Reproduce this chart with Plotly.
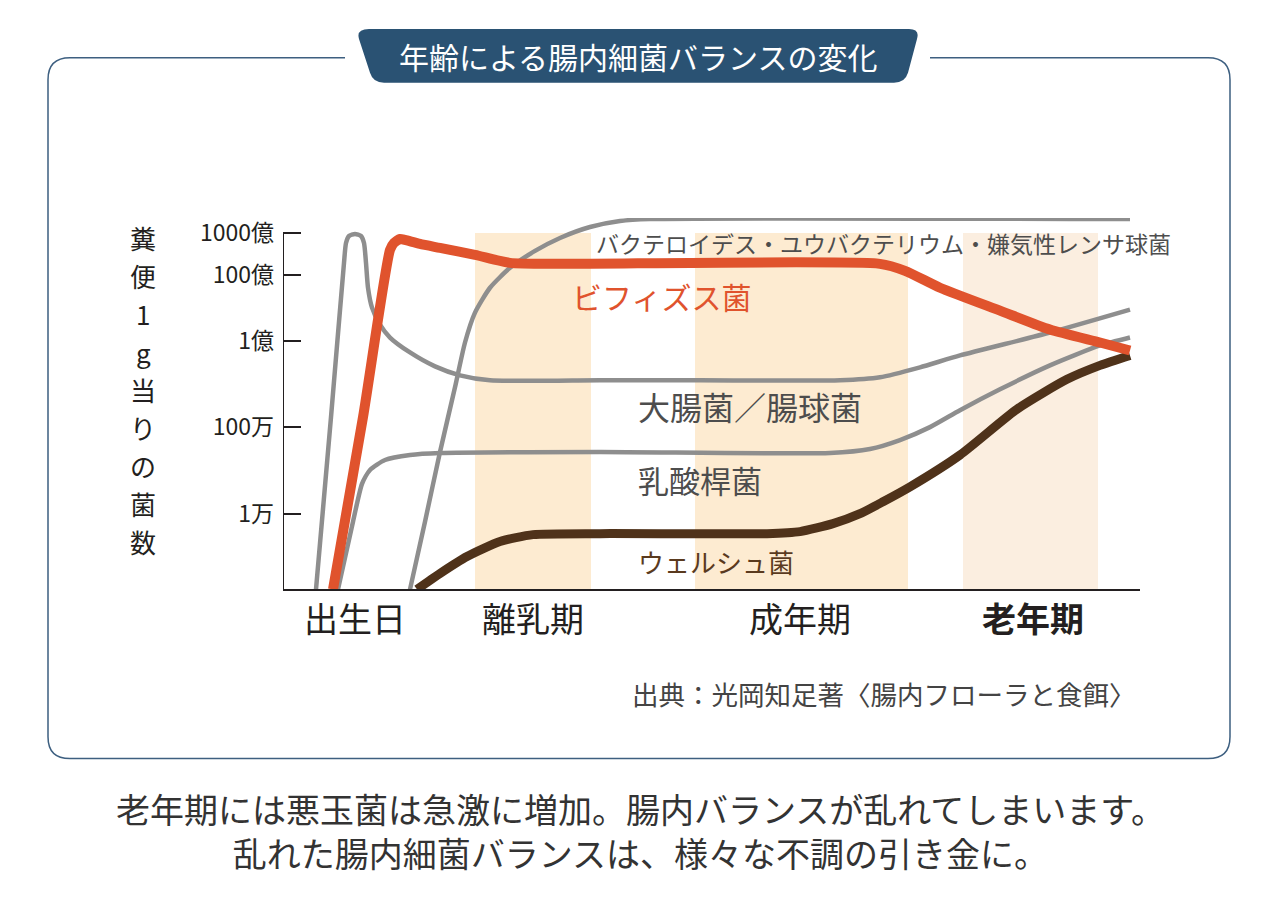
"""
Age-related change of gut bacteria balance (illustrative chart)
"""
import plotly.graph_objects as go

# the page body keeps an 8px margin, so the figure is drawn 16px smaller
OFF = 8
W, H = 1280 - 2 * OFF, 900 - 2 * OFF
FONT = "Noto Sans CJK JP"

# level axis: tick positions on the chart's own (non-uniform) scale
y_tick_vals = [76, 163, 250, 316, 358]
y_tick_text = ["1万", "100万", "1億", "100億", "1000億"]

# life stages
stage_pos = [72, 250, 517, 750]
stage_text = ["出生日", "離乳期", "成年期", "<b>老年期</b>"]
band_start = [192, 412, 680]
band_end = [308, 625, 815]
band_color = ["#FDEBD1", "#FDEBD1", "#FBEEE0"]

# curves (x: age position, y: level)
coli_x = [33, 48, 61, 63, 66, 72, 78, 81, 83, 85, 89, 97, 107, 127, 152, 177, 207,
          317, 417, 557, 597, 637, 677, 767, 847]
coli_y = [0, 173, 328, 348, 355, 357, 355, 348, 328, 303, 283, 266, 253, 238, 224, 215, 210,
          210, 210, 210, 213, 223, 235, 258, 281]

bact_x = [127, 142, 157, 172, 182, 192, 207, 227, 252, 277, 307, 337, 367, 847]
bact_y = [0, 68, 138, 203, 248, 278, 303, 323, 340, 353, 364, 370, 372, 372]

lacto_x = [55, 70, 79, 87, 102, 127, 157, 317, 547, 587, 617, 647, 677, 717, 767, 817, 847]
lacto_y = [0, 68, 106, 120, 130, 135, 137, 138, 137, 141, 150, 163, 180, 201, 225, 245, 253]

welch_x = [134, 157, 184, 217, 250, 317, 484, 517, 550, 577, 600, 627, 677, 734, 784, 817, 847]
welch_y = [0, 16, 33, 48, 55, 56, 56, 58, 66, 76, 88, 103, 135, 181, 211, 225, 235]

bifido_x = [50, 80, 107, 111, 117, 122, 137, 157, 192, 227, 277, 597, 622, 657, 717, 767, 817, 847]
bifido_y = [0, 173, 341, 348, 352, 351, 347, 343, 336, 328, 327, 327, 320, 303, 280, 261, 248, 240]


def px(x):
    return (x - OFF) / W


def py(y):
    return 1 - (y - OFF) / H


fig = go.Figure()

grey = "#8E8E8E"
for xs, ys in [(coli_x, coli_y), (bact_x, bact_y), (lacto_x, lacto_y)]:
    fig.add_trace(go.Scatter(x=xs, y=ys, mode="lines",
                             line=dict(color=grey, width=4.5, shape="spline", smoothing=0.6),
                             hoverinfo="skip"))

fig.add_trace(go.Scatter(x=welch_x, y=welch_y, mode="lines",
                         line=dict(color="#4F321A", width=9, shape="spline", smoothing=0.6),
                         hoverinfo="skip"))
fig.add_trace(go.Scatter(x=bifido_x, y=bifido_y, mode="lines",
                         line=dict(color="#E0532D", width=10, shape="spline", smoothing=0.6),
                         hoverinfo="skip"))

shapes = []
# stage bands
for x0, x1, c in zip(band_start, band_end, band_color):
    shapes.append(dict(type="rect", xref="x", yref="y", x0=x0, x1=x1, y0=0, y1=max(y_tick_vals),
                       fillcolor=c, line=dict(width=0), layer="below"))
# y axis line, up to the top tick only
shapes.append(dict(type="line", xref="x", yref="y", x0=0, x1=0, y0=0, y1=max(y_tick_vals),
                   line=dict(color="#231F20", width=2)))

# outer rounded frame with a gap for the title tab
r = 22
L, R, T, B = 48, 1230, 54, 758
frame = (f"M {px(345)},{py(T)} L {px(L + r)},{py(T)} Q {px(L)},{py(T)} {px(L)},{py(T + r)} "
         f"L {px(L)},{py(B - r)} Q {px(L)},{py(B)} {px(L + r)},{py(B)} "
         f"L {px(R - r)},{py(B)} Q {px(R)},{py(B)} {px(R)},{py(B - r)} "
         f"L {px(R)},{py(T + r)} Q {px(R)},{py(T)} {px(R - r)},{py(T)} L {px(930)},{py(T)}")
shapes.append(dict(type="path", xref="paper", yref="paper", path=frame,
                   line=dict(color="#3D5F80", width=1.5)))

# title tab
tab = (f"M {px(369)},{py(25)} L {px(909)},{py(25)} Q {px(920)},{py(25)} {px(917)},{py(35)} "
       f"L {px(908)},{py(69)} Q {px(905)},{py(79)} {px(894)},{py(79)} "
       f"L {px(384)},{py(79)} Q {px(373)},{py(79)} {px(370)},{py(69)} "
       f"L {px(359)},{py(35)} Q {px(356)},{py(25)} {px(369)},{py(25)} Z")
shapes.append(dict(type="path", xref="paper", yref="paper", path=tab,
                   fillcolor="#2A5273", line=dict(width=0)))

annotations = [
    dict(x=px(638), y=py(52), text="年齢による腸内細菌バランスの変化",
         font=dict(size=30, color="white")),
    dict(x=px(594), y=py(240), text="バクテロイデス・ユウバクテリウム・嫌気性レンサ球菌",
         xanchor="left", font=dict(size=23, color="#4D4D4D")),
    dict(x=px(570), y=py(293), text="ビフィズス菌", xanchor="left",
         font=dict(size=30, color="#E0532D")),
    dict(x=px(636), y=py(404), text="大腸菌／腸球菌", xanchor="left",
         font=dict(size=32, color="#4D4D4D")),
    dict(x=px(636), y=py(478), text="乳酸桿菌", xanchor="left",
         font=dict(size=31, color="#4D4D4D")),
    dict(x=px(636), y=py(560), text="ウェルシュ菌", xanchor="left",
         font=dict(size=26, color="#5A3A1E")),
    dict(x=px(630), y=py(693), text="出典：光岡知足著〈腸内フローラと食餌〉", xanchor="left",
         font=dict(size=26.5, color="#444444")),
    dict(x=px(640), y=py(830),
         text="老年期には悪玉菌は急激に増加。腸内バランスが乱れてしまいます。<br>"
              "乱れた腸内細菌バランスは、様々な不調の引き金に。",
         font=dict(size=34, color="#333333")),
]

# vertical axis title, one character per line
for i, ch in enumerate("糞便1g当りの菌数"):
    annotations.append(dict(x=px(143), y=py(235 + i * 38.1), text=ch,
                            font=dict(size=26, color="#231F20")))

for a in annotations:
    a.setdefault("xref", "paper")
    a.setdefault("yref", "paper")
    a.setdefault("showarrow", False)
    a.setdefault("xanchor", "center")
    a.setdefault("yanchor", "middle")

fig.update_layout(
    width=W, height=H,
    margin=dict(l=0, r=0, t=0, b=0),
    paper_bgcolor="white",
    plot_bgcolor="white",
    showlegend=False,
    font=dict(family=FONT, color="#231F20"),
    shapes=shapes,
    annotations=annotations,
    xaxis=dict(domain=[px(283), px(1140)], range=[0, 857], showgrid=False, zeroline=False,
               showline=True, linecolor="#231F20", linewidth=2,
               tickvals=stage_pos, ticktext=stage_text, ticks="",
               tickfont=dict(size=34, color="#231F20")),
    yaxis=dict(domain=[py(588), py(215)], range=[0, 373], showgrid=False, zeroline=False,
               showline=False, tickvals=y_tick_vals, ticktext=y_tick_text,
               ticks="inside", ticklen=18, tickwidth=2, tickcolor="#231F20",
               ticklabelstandoff=8,
               tickfont=dict(size=23, color="#231F20")),
)

fig.write_html("out.html")
